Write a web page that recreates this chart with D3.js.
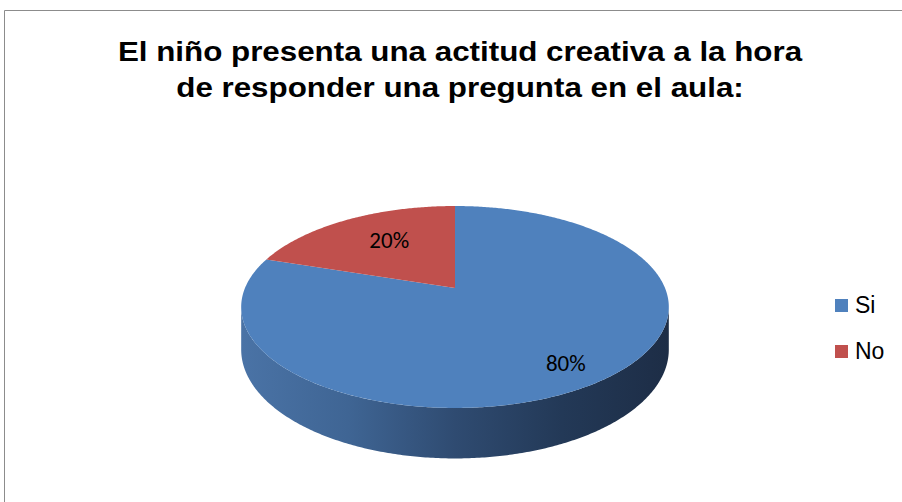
<!DOCTYPE html>
<html>
<head>
<meta charset="utf-8">
<script src="https://cdn.jsdelivr.net/npm/d3@7"></script>
<style>
  html, body { margin: 0; padding: 0; background: #ffffff; }
  svg { display: block; }
</style>
</head>
<body>
<svg id="chart" width="902" height="502"></svg>
<script>
// Survey answers
const categories = ["Si", "No"];
const values = [80, 20];
const colors = ["#4f81bd", "#c0504d"];
const titleLines = [
  "El niño presenta una actitud creativa a la hora",
  "de responder una pregunta en el aula:"
];

const svg = d3.select("#chart");

// Chart area frame
svg.append("path")
  .attr("d", "M4.5,502 L4.5,10.5 L902,10.5")
  .attr("fill", "none")
  .attr("stroke", "#8c8c8c")
  .attr("stroke-width", 1);

// Title (slightly widened lettering)
svg.append("g")
  .attr("transform", "translate(460,0) scale(1.14,1)")
  .append("text")
  .attr("text-anchor", "middle")
  .attr("font-family", "'Liberation Sans', Arial, sans-serif")
  .attr("font-weight", "bold")
  .attr("font-size", 27.5)
  .attr("fill", "#000")
  .selectAll("tspan")
  .data(titleLines)
  .join("tspan")
  .attr("x", 0)
  .attr("y", (d, i) => 61 + i * 36)
  .text(d => d);

// Perspective view of a flat disc: angle a (clockwise from 12 o'clock),
// radius fraction r, and drop h for the lower rim.
const cx = 455, cy = 288;
const kx = 210, ky = 97.4, persp = 0.188, drop = 41;
function project(a, r, h) {
  const X = r * Math.sin(a), Z = r * Math.cos(a);
  const w = 1 + persp * Z;
  return [cx + kx * X / w, cy - ky * Z / w + (h || 0) / w];
}

const pie = d3.pie().sort(null).value(d => d)
  .startAngle(0).endAngle(2 * Math.PI);
const arcs = pie(values);

const line = d3.line().curve(d3.curveLinear);

function rimPoints(a0, a1, h) {
  const n = Math.max(8, Math.ceil(Math.abs(a1 - a0) / 0.01));
  return d3.range(n + 1).map(i => project(a0 + (a1 - a0) * i / n, 1, h));
}

// Side wall gradient (lit from the left)
const defs = svg.append("defs");
const grad = defs.append("linearGradient")
  .attr("id", "wall")
  .attr("gradientUnits", "userSpaceOnUse")
  .attr("x1", 241).attr("y1", 0).attr("x2", 669).attr("y2", 0);
[[0, "#4a73a6"], [0.25, "#3f6594"], [0.5, "#2f4b71"], [0.75, "#233957"], [1, "#1d2d46"]]
  .forEach(([o, c]) => grad.append("stop").attr("offset", o).attr("stop-color", c));

// Visible front part of the outer wall
const aR = Math.PI / 2 + Math.asin(persp);
const aL = 3 * Math.PI / 2 - Math.asin(persp);
arcs.forEach((d, i) => {
  const a0 = Math.max(d.startAngle, aR), a1 = Math.min(d.endAngle, aL);
  if (a1 <= a0) return;
  const pts = rimPoints(a0, a1, 0).concat(rimPoints(a1, a0, drop));
  svg.append("path")
    .attr("d", line(pts) + "Z")
    .attr("fill", i === 0 ? "url(#wall)" : d3.color(colors[i]).darker(1.2))
    .attr("stroke", "none");
});

// Top faces of the slices
svg.append("g").selectAll("path")
  .data(arcs)
  .join("path")
  .attr("d", d => line([[cx, cy]].concat(rimPoints(d.startAngle, d.endAngle, 0))) + "Z")
  .attr("fill", (d, i) => colors[i]);

// Percentage labels
const total = d3.sum(values);
const labelR = [0.79, 0.58];
const labelDy = [4, -6];
svg.append("g").selectAll("text")
  .data(arcs)
  .join("text")
  .attr("x", (d, i) => project((d.startAngle + d.endAngle) / 2, labelR[i])[0])
  .attr("y", (d, i) => project((d.startAngle + d.endAngle) / 2, labelR[i])[1] + labelDy[i])
  .attr("text-anchor", "middle")
  .attr("dominant-baseline", "central")
  .attr("font-family", "Carlito, Lato, sans-serif")
  .attr("font-size", 23)
  .attr("fill", "#000")
  .text(d => Math.round(d.value / total * 100) + "%");

// Legend
const legend = svg.append("g").selectAll("g")
  .data(categories)
  .join("g")
  .attr("transform", (d, i) => `translate(835,${299 + i * 46})`);
legend.append("rect")
  .attr("width", 13).attr("height", 13)
  .attr("fill", (d, i) => colors[i]);
legend.append("text")
  .attr("x", 20).attr("y", 14)
  .attr("font-family", "'Liberation Sans', Arial, sans-serif")
  .attr("font-size", 23)
  .attr("fill", "#000")
  .text(d => d);
</script>
</body>
</html>
